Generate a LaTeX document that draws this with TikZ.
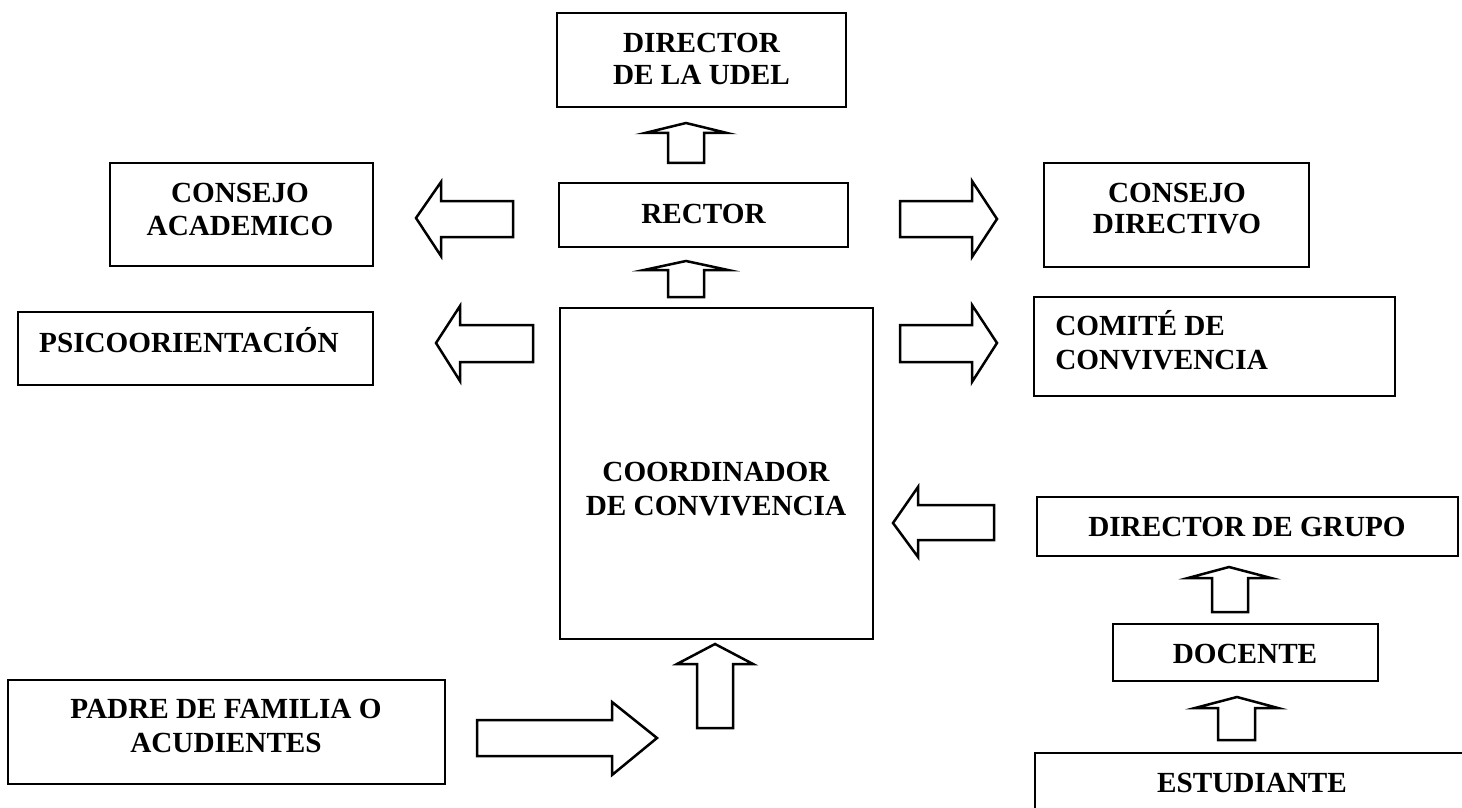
\documentclass[tikz,border=0pt]{standalone}
\usepackage{fontspec}
\setmainfont{Liberation Serif}
\begin{document}
\begin{tikzpicture}[x=0.5pt,y=-0.5pt,
  box/.style={draw=black, line width=1.35pt, rectangle, inner sep=0pt, fill=white},
  lbl/.style={anchor=base, inner sep=0pt, font=\fontsize{14.6}{17}\selectfont\bfseries},
  barrow/.style={draw=black, line width=1.25pt, line join=miter, fill=white}]
\useasboundingbox (0,0) rectangle (1462,808);
% boxes: node at centre, size in px (x0.5pt)
\node[box, minimum width=144.5pt, minimum height=47pt] (udel) at (701.5,60) {};
\node[box, minimum width=144.5pt, minimum height=32pt] (rector) at (703.5,215) {};
\node[box, minimum width=131.5pt, minimum height=51.5pt] (cacad) at (241.5,214.5) {};
\node[box, minimum width=132.5pt, minimum height=52pt] (cdir) at (1176.5,215) {};
\node[box, minimum width=177.5pt, minimum height=36.5pt] (psico) at (195.5,348.5) {};
\node[box, minimum width=180.5pt, minimum height=49.5pt] (comite) at (1214.5,346.5) {};
\node[box, minimum width=156.5pt, minimum height=165.5pt] (coord) at (716.5,473.5) {};
\node[box, minimum width=210.5pt, minimum height=29.5pt] (dgrupo) at (1247.5,526.5) {};
\node[box, minimum width=132.5pt, minimum height=28.5pt] (docente) at (1245.5,652.5) {};
\node[box, minimum width=218.5pt, minimum height=52pt] (padre) at (226.5,732) {};
\begin{scope}
\clip (0,0) rectangle (1462,808);
\node[box, minimum width=240pt, minimum height=60pt] (estud) at (1275,813) {};
\end{scope}
% texts
\node[lbl] (udelA) at (701.5,53) {DIRECTOR};
\node[lbl] (udelB) at (701.5,85) {DE LA UDEL};
\node[lbl] (rectorT) at (703.5,223) {RECTOR};
\node[lbl] (cacadA) at (240,202) {CONSEJO};
\node[lbl] (cacadB) at (240,235) {ACADEMICO};
\node[lbl] (cdirA) at (1177,202) {CONSEJO};
\node[lbl] (cdirB) at (1177,234) {DIRECTIVO};
\node[lbl] (psicoT) at (189,352) {PSICOORIENTACIÓN};
\node[lbl, anchor=base west] (comiteA) at (1055,335) {COMITÉ DE};
\node[lbl, anchor=base west] (comiteB) at (1055,369) {CONVIVENCIA};
\node[lbl] (coordA) at (716,481) {COORDINADOR};
\node[lbl] (coordB) at (716,515) {DE CONVIVENCIA};
\node[lbl] (dgrupoT) at (1247,536) {DIRECTOR DE GRUPO};
\node[lbl] (docenteT) at (1245,663) {DOCENTE};
\node[lbl] (estudT) at (1252,792) {ESTUDIANTE};
\node[lbl] (padreA) at (226,718) {PADRE DE FAMILIA O};
\node[lbl] (padreB) at (226,752) {ACUDIENTES};
% up block arrows
\draw[barrow] (686,123) -- (727,133) -- (704,133) -- (704,163) -- (668,163) -- (668,133) -- (645,133) -- cycle;
\draw[barrow] (686,261) -- (728,270) -- (704,270) -- (704,297) -- (668,297) -- (668,270) -- (644,270) -- cycle;
\draw[barrow] (715,644) -- (753,664) -- (733,664) -- (733,728) -- (697,728) -- (697,664) -- (677,664) -- cycle;
\draw[barrow] (1229,567) -- (1271,578) -- (1248,578) -- (1248,612) -- (1212,612) -- (1212,578) -- (1188,578) -- cycle;
\draw[barrow] (1237,697) -- (1278,708) -- (1255,708) -- (1255,740) -- (1218,740) -- (1218,708) -- (1195,708) -- cycle;
% left block arrows
\draw[barrow] (416,218) -- (441,182) -- (441,201) -- (513,201) -- (513,237) -- (441,237) -- (441,256) -- cycle;
\draw[barrow] (436,343) -- (460,306) -- (460,325) -- (533,325) -- (533,362) -- (460,362) -- (460,381) -- cycle;
\draw[barrow] (893,523) -- (918,487) -- (918,505) -- (994,505) -- (994,540) -- (918,540) -- (918,557) -- cycle;
% right block arrows
\draw[barrow] (997,219) -- (972,181) -- (972,201) -- (900,201) -- (900,237) -- (972,237) -- (972,257) -- cycle;
\draw[barrow] (997,343) -- (972,305) -- (972,325) -- (900,325) -- (900,362) -- (972,362) -- (972,382) -- cycle;
\draw[barrow] (657,738) -- (612,702) -- (612,720) -- (477,720) -- (477,756) -- (612,756) -- (612,775) -- cycle;
\end{tikzpicture}
\end{document}
